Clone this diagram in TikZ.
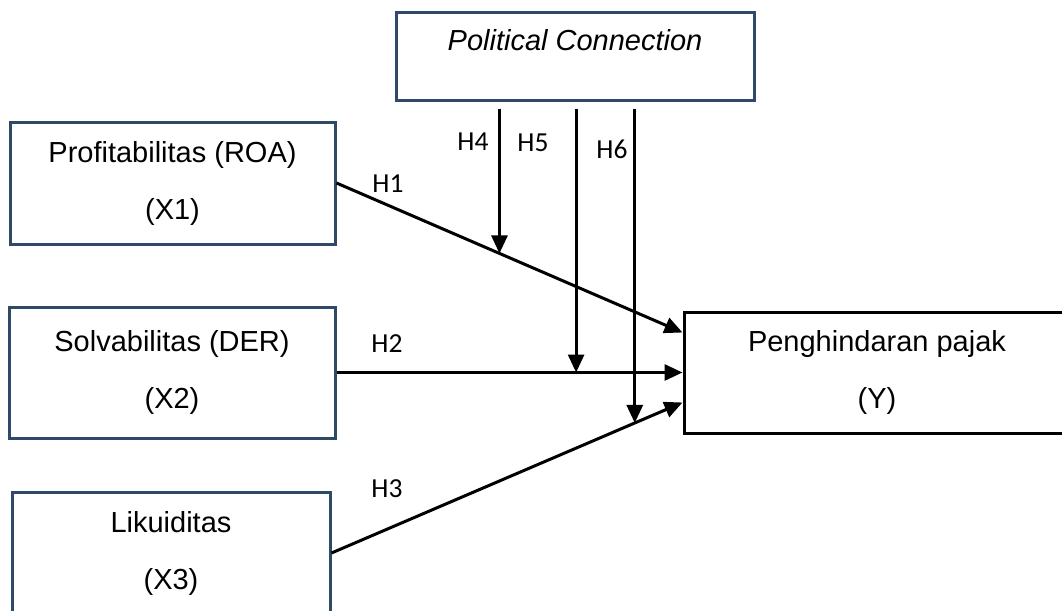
\documentclass[tikz,border=0pt]{standalone}
\usepackage{fontspec}
\setmainfont{Liberation Sans}
\newfontfamily\hfont{Carlito}
\usetikzlibrary{arrows.meta,positioning,calc}
\definecolor{slate}{HTML}{2F4A66}
\tikzset{
  varbox/.style={draw=slate, line width=3pt, align=center, inner sep=0pt,
    font=\fontsize{29}{57}\selectfont},
  link/.style={-{Triangle[length=18pt, width=16pt]}, line width=3pt},
  hyp/.style={font=\hfont\fontsize{27.5}{30}\selectfont}
}

\begin{document}
\begin{tikzpicture}[x=1pt, y=-1pt]
  \clip (0,0) rectangle (1062,610);

  % Moderator on top
  \node[varbox, minimum width=358pt, minimum height=87pt, font=\fontsize{29}{33}\selectfont]
    (pc) at (575,56.5) {\textit{Political Connection}\\\mbox{}};

  % Independent variables
  \node[varbox, minimum width=325pt, minimum height=122pt] (x1) at (172.5,183) {Profitabilitas (ROA)\\(X1)};
  \node[varbox, minimum width=326pt, minimum height=131pt] (x2) at (172,372.5) {Solvabilitas (DER)\\(X2)};
  \node[varbox, minimum width=318pt, minimum height=122pt] (x3) at (171,553) {Likuiditas\\(X3)};

  % Dependent variable
  \node[varbox, draw=black, minimum width=386pt, minimum height=121pt] (y) at (877,372.5) {Penghindaran pajak\\(Y)};

  % Direct effects
  \draw[link] (x1.east) -- coordinate[pos=0.471] (m1) ($(y.west)+(0,-40)$);
  \draw[link] (x2.east) -- coordinate[pos=0.6925] (m2) (y.west);
  \draw[link] (x3.east) -- coordinate[pos=0.864] (m3) ($(y.west)+(0,30)$);

  % Moderating effects
  \draw[link, shorten <=7pt] (pc.south -| m1) -- (m1);
  \draw[link, shorten <=7pt] (pc.south -| m2) -- (m2);
  \draw[link, shorten <=7pt] (pc.south -| m3) -- (m3);

  % Hypothesis labels
  \node[hyp] (h1) at (388,184) {H1};
  \node[hyp] (h2) at (387,344) {H2};
  \node[hyp] (h3) at (387,489) {H3};
  \node[hyp] (h4) at (473,142) {H4};
  \node[hyp] (h5) at (533,143) {H5};
  \node[hyp] (h6) at (612,149) {H6};
\end{tikzpicture}
\end{document}
